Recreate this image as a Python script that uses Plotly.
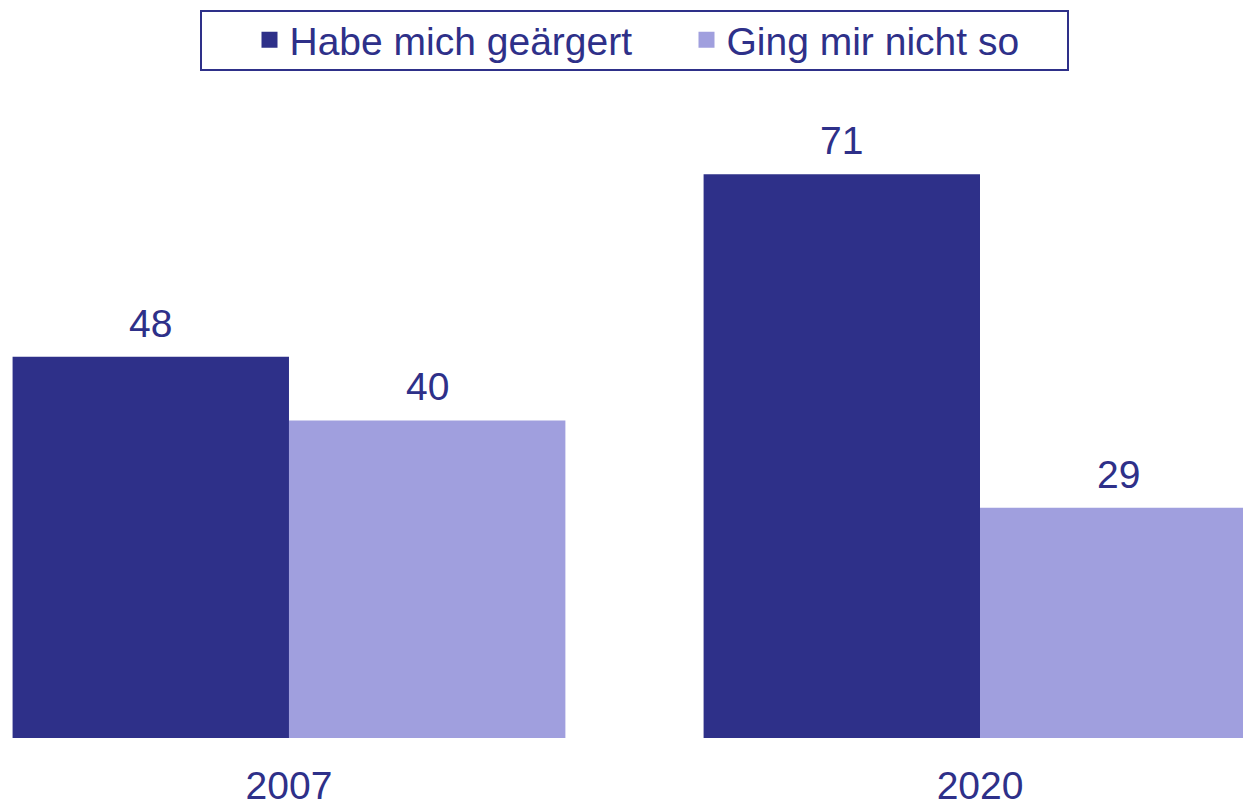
import plotly.graph_objects as go

categories = ["2007", "2020"]
series_names = ["Habe mich geärgert", "Ging mir nicht so"]
geargert = [48, 71]
nicht_so = [40, 29]

dark = "#2E3089"
light = "#A09FDE"
font_family = "Liberation Sans, Arial, sans-serif"
fs = 39
W, H = 1243, 802

fig = go.Figure()
fig.add_trace(go.Bar(x=categories, y=geargert, name=series_names[0],
                     marker=dict(color=dark, line=dict(width=0)), showlegend=False))
fig.add_trace(go.Bar(x=categories, y=nicht_so, name=series_names[1],
                     marker=dict(color=light, line=dict(width=0)), showlegend=False))

# legend entries with larger square symbols
for nm, col in zip(series_names, [dark, light]):
    fig.add_trace(go.Scatter(x=[None], y=[None], mode="markers", name=nm,
                             marker=dict(symbol="square", size=18, color=col)))

annotations = []
for vals, shift in [(geargert, -138.5), (nicht_so, 138.5)]:
    for i, v in enumerate(vals):
        annotations.append(dict(x=i, y=v, xref="x", yref="y", text=str(v), showarrow=False,
                                xanchor="center", yanchor="bottom",
                                xshift=shift, yshift=10,
                                font=dict(family=font_family, size=fs, color=dark)))

fig.update_layout(
    width=W, height=H,
    margin=dict(l=0, r=0, t=100, b=64, autoexpand=False),
    paper_bgcolor="white", plot_bgcolor="white",
    barmode="group", bargap=0.2, bargroupgap=0,
    font=dict(family=font_family, size=fs, color=dark),
    xaxis=dict(type="category", range=[-0.4182, 1.3806], showgrid=False, zeroline=False,
               showline=False, ticks="", ticklabelstandoff=21, automargin=False,
               tickfont=dict(size=fs, color=dark)),
    yaxis=dict(range=[0, 80.35], visible=False, automargin=False),
    legend=dict(orientation="h", x=249.5 / W, xanchor="left", y=1 - 8 / H, yanchor="top",
                yref="container", borderwidth=0,
                font=dict(size=fs, color=dark), bgcolor="rgba(0,0,0,0)",
                itemsizing="trace", entrywidth=392, entrywidthmode="pixels"),
    annotations=annotations,
    shapes=[dict(type="rect", xref="paper", yref="paper",
                 x0=201 / W, x1=1068 / W, y0=1.047, y1=1.1395,
                 line=dict(color=dark, width=2), fillcolor="rgba(0,0,0,0)")],
)

fig.write_html("out.html", config={"displayModeBar": False},
               post_script="document.body.style.margin='0';document.documentElement.style.overflow='hidden';")
